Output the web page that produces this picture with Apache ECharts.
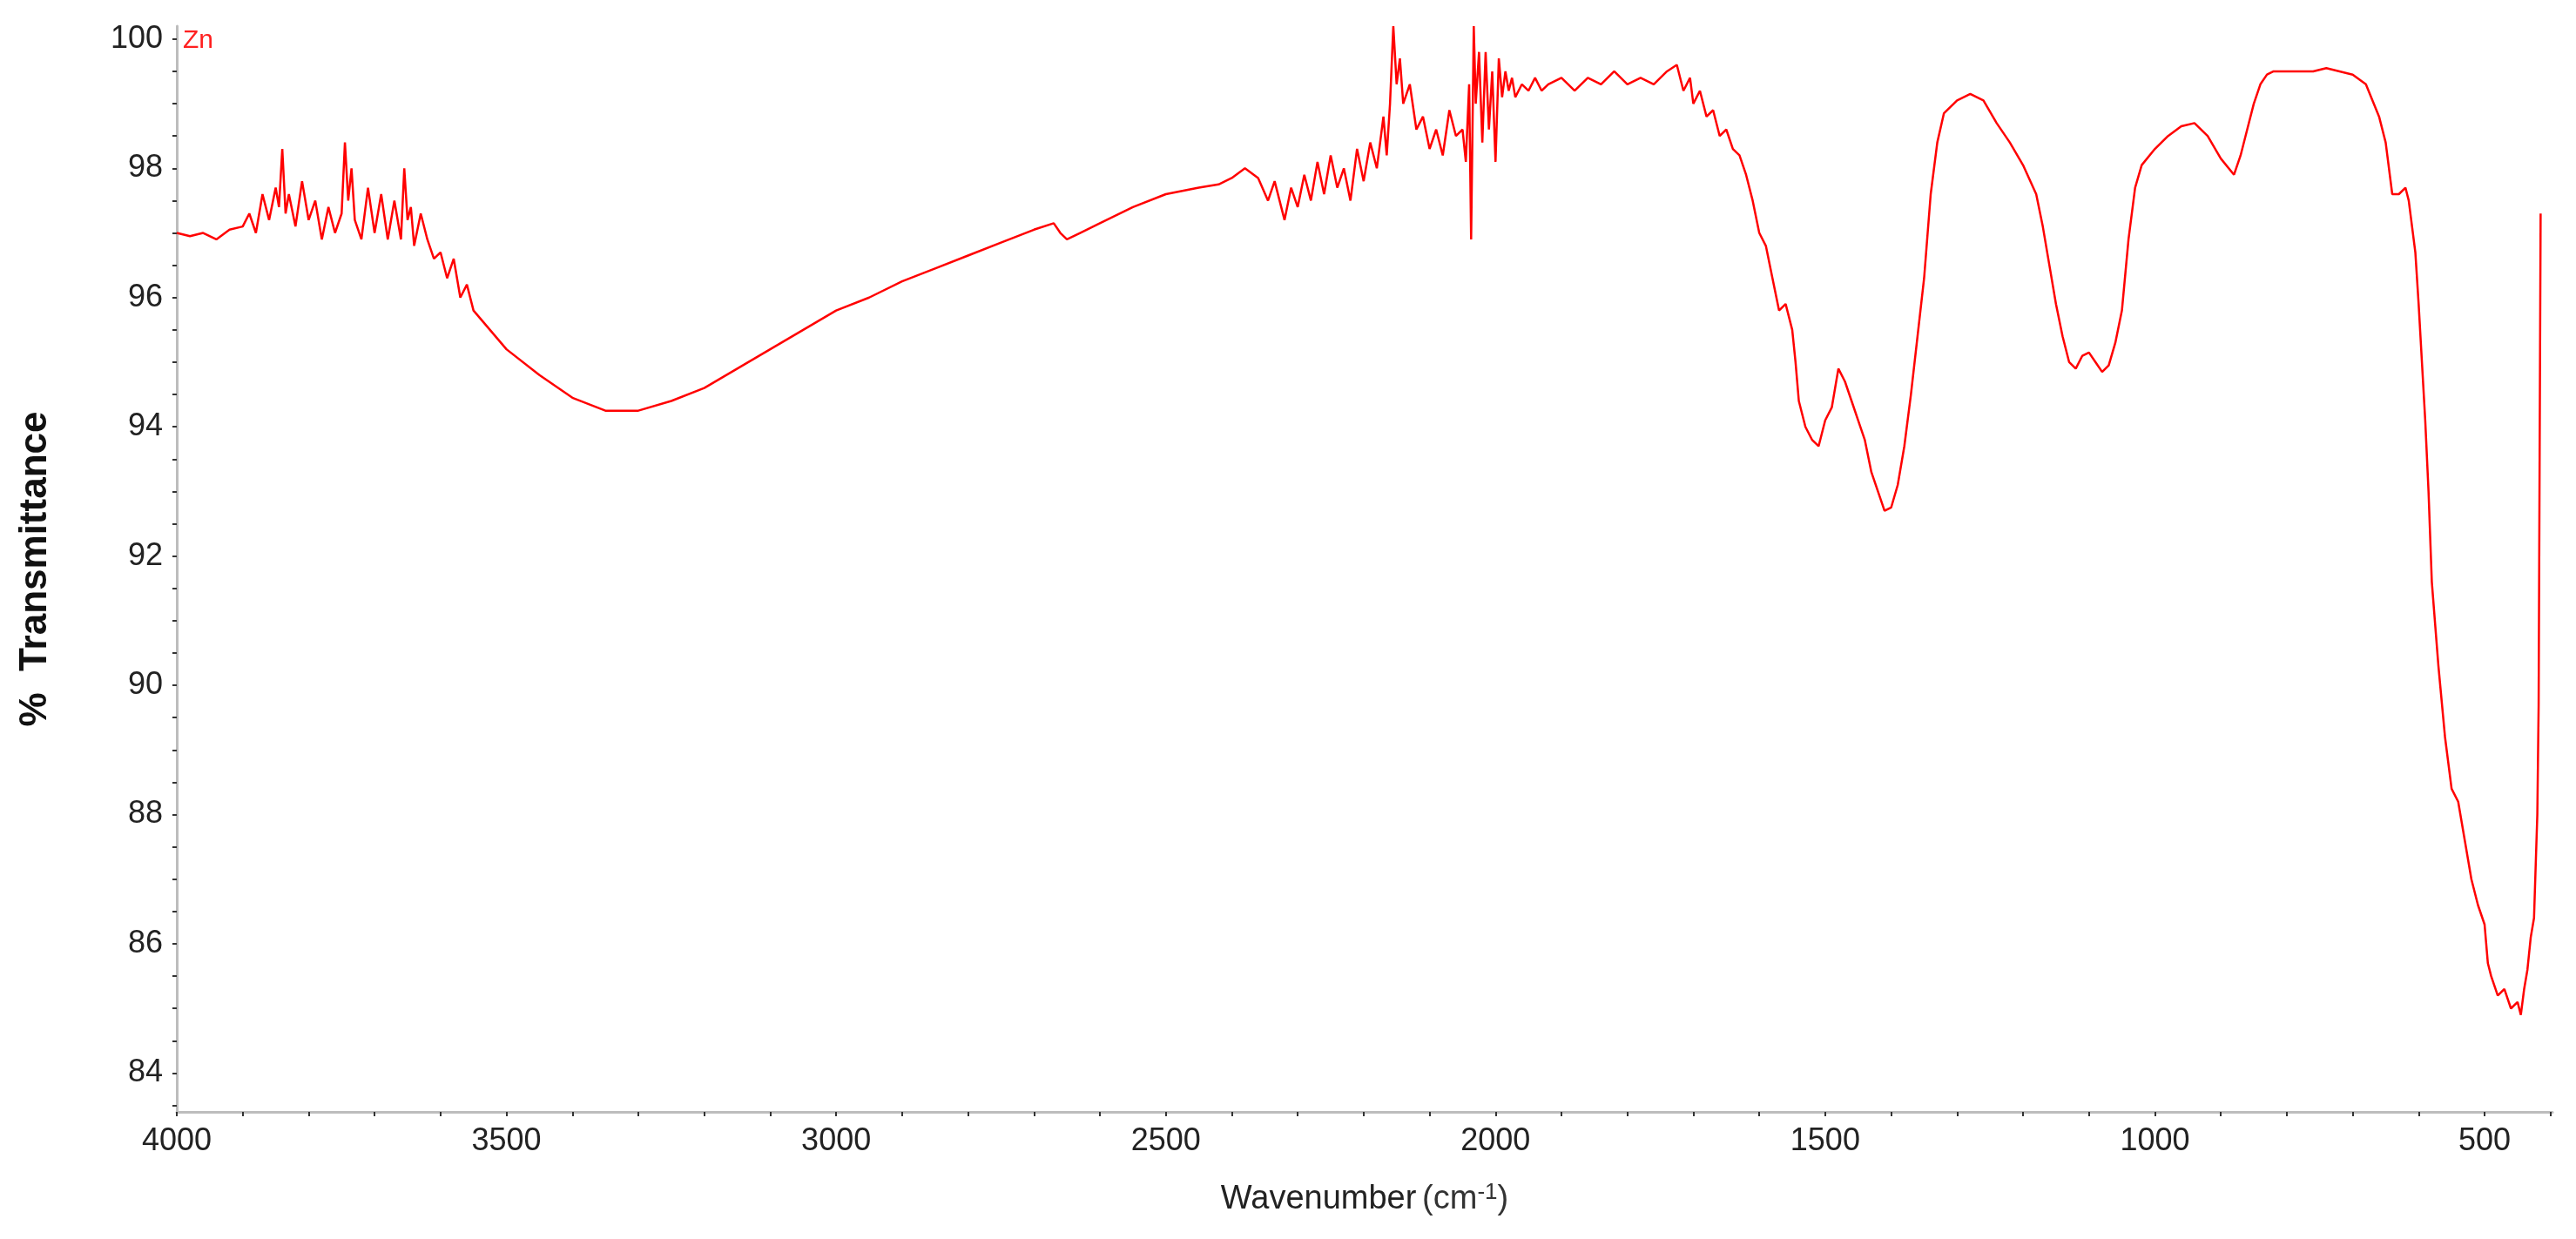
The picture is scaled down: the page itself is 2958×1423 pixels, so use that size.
<!DOCTYPE html>
<html><head><meta charset="utf-8">
<script src="https://cdn.jsdelivr.net/npm/echarts@6/dist/echarts.min.js"></script>
<style>html,body{margin:0;padding:0;background:#fff}#c{width:2958px;height:1423px}</style>
</head><body><div id="c"></div>
<script>
const wavenumbers = [4000,3980,3960,3940,3920,3900,3890,3880,3870,3860,3850,3845,3840,3835,3830,3820,3810,3800,3790,3780,3770,3760,3750,3745,3740,3735,3730,3720,3710,3700,3690,3680,3670,3660,3655,3650,3645,3640,3630,3620,3610,3600,3590,3580,3570,3560,3550,3500,3450,3400,3350,3300,3250,3200,3150,3100,3050,3000,2950,2900,2850,2800,2750,2700,2670,2660,2650,2630,2600,2550,2500,2450,2420,2400,2380,2360,2345,2335,2320,2310,2300,2290,2280,2270,2260,2250,2240,2230,2220,2210,2200,2190,2180,2170,2165,2160,2155,2150,2145,2140,2130,2120,2110,2100,2090,2080,2070,2060,2050,2045,2040,2037,2033,2030,2025,2020,2015,2010,2005,2000,1995,1990,1985,1980,1975,1970,1960,1950,1940,1930,1920,1900,1880,1860,1840,1820,1800,1780,1760,1740,1725,1715,1705,1700,1690,1680,1670,1660,1650,1640,1630,1620,1610,1600,1590,1580,1570,1560,1550,1545,1540,1530,1520,1510,1500,1490,1480,1470,1460,1450,1440,1430,1420,1410,1400,1390,1380,1370,1360,1350,1340,1330,1320,1300,1280,1260,1240,1220,1200,1180,1170,1160,1150,1140,1130,1120,1110,1100,1090,1080,1070,1060,1050,1040,1030,1020,1000,980,960,940,920,900,880,870,860,850,840,830,820,800,780,760,740,720,700,680,660,650,640,630,620,615,610,605,600,595,590,585,580,570,560,550,540,530,520,510,500,495,490,480,470,460,450,445,440,435,430,425,420,418,415,413,410,408,406,405];
const transmittance = [97.0,96.95,97.0,96.9,97.05,97.1,97.3,97.0,97.6,97.2,97.7,97.4,98.3,97.3,97.6,97.1,97.8,97.2,97.5,96.9,97.4,97.0,97.3,98.4,97.5,98.0,97.2,96.9,97.7,97.0,97.6,96.9,97.5,96.9,98.0,97.2,97.4,96.8,97.3,96.9,96.6,96.7,96.3,96.6,96.0,96.2,95.8,95.2,94.8,94.45,94.25,94.25,94.4,94.6,94.9,95.2,95.5,95.8,96.0,96.25,96.45,96.65,96.85,97.05,97.15,97.0,96.9,97.0,97.15,97.4,97.6,97.7,97.75,97.85,98.0,97.85,97.5,97.8,97.2,97.7,97.4,97.9,97.5,98.1,97.6,98.2,97.7,98.0,97.5,98.3,97.8,98.4,98.0,98.8,98.2,99.0,100.2,99.3,99.7,99.0,99.3,98.6,98.8,98.3,98.6,98.2,98.9,98.5,98.6,98.1,99.3,96.9,100.2,99.0,99.8,98.4,99.8,98.6,99.5,98.1,99.7,99.1,99.5,99.2,99.4,99.1,99.3,99.2,99.4,99.2,99.3,99.4,99.2,99.4,99.3,99.5,99.3,99.4,99.3,99.5,99.6,99.2,99.4,99.0,99.2,98.8,98.9,98.5,98.6,98.3,98.2,97.9,97.5,97.0,96.8,96.3,95.8,95.9,95.5,95.0,94.4,94.0,93.8,93.7,94.1,94.3,94.9,94.7,94.4,94.1,93.8,93.3,93.0,92.7,92.75,93.1,93.7,94.5,95.4,96.3,97.6,98.4,98.85,99.05,99.15,99.05,98.7,98.4,98.05,97.6,97.1,96.5,95.9,95.4,95.0,94.9,95.1,95.15,95.0,94.85,94.95,95.3,95.8,96.9,97.7,98.05,98.3,98.5,98.65,98.7,98.5,98.15,97.9,98.2,98.6,99.0,99.3,99.45,99.5,99.5,99.5,99.5,99.55,99.5,99.45,99.3,98.8,98.4,97.6,97.6,97.7,97.5,97.1,96.7,95.9,95.0,94.1,93.0,91.6,90.3,89.2,88.4,88.2,87.6,87.0,86.6,86.3,85.7,85.5,85.2,85.3,85.0,85.1,84.9,85.3,85.6,86.1,86.4,88.0,89.7,97.3];
const xLabels = [500,1000,1500,2000,2500,3000,3500,4000];
const yLabels = [84,86,88,90,92,94,96,98,100];
const xTicks = []; for (let v = 400; v <= 4000; v += 100) xTicks.push(v);
const yTicks = []; for (let v = 83.5; v <= 100; v += 0.5) yTicks.push(v);

const data = wavenumbers.map((w,i)=>[w, transmittance[i]]);
const chart = echarts.init(document.getElementById('c'));
const F = '"Liberation Sans Narrow", "Liberation Sans", Arial, sans-serif';
chart.setOption({
  animation:false,
  grid:{left:203,right:27,top:30,bottom:146},
  xAxis:{type:'value',inverse:true,min:397,max:4000,
    axisLine:{lineStyle:{color:'#bdbdbd',width:3}},
    axisTick:{customValues:xTicks,length:5,lineStyle:{color:'#333',width:2}},
    axisLabel:{customValues:xLabels,formatter:v=>String(v),fontFamily:F,fontSize:36,color:'#222',margin:16},
    splitLine:{show:false},
    name:'{a|Wavenumber}  {b|(cm}{c|-1}{b|)}',nameLocation:'middle',nameGap:80,
    nameTextStyle:{rich:{a:{fontFamily:F,fontSize:38,color:'#222'},b:{fontFamily:F,fontSize:38,color:'#333'},c:{fontFamily:F,fontSize:26,color:'#333',verticalAlign:'top',padding:[0,0,16,0]}}}
  },
  yAxis:{type:'value',min:83.4,max:100.2,
    axisLine:{show:true,lineStyle:{color:'#bdbdbd',width:3}},
    axisTick:{show:true,customValues:yTicks,length:5,lineStyle:{color:'#333',width:2}},
    axisLabel:{customValues:yLabels,formatter:v=>String(v),fontFamily:F,fontSize:36,color:'#222',margin:16},
    splitLine:{show:false},
    name:'%  Transmittance',nameLocation:'middle',nameGap:140,
    nameTextStyle:{fontFamily:'"Liberation Sans", Arial, sans-serif',fontSize:44,color:'#111',fontWeight:'bold'}
  },
  graphic:[{type:'text',left:210,top:32,style:{text:'Zn',fill:'#ff2020',font:'30px "Liberation Sans", Arial, sans-serif'}}],
  series:[{type:'line',data:data,showSymbol:false,lineStyle:{color:'#ff0000',width:2.5},itemStyle:{color:'#ff0000'}}]
});
</script></body></html>
